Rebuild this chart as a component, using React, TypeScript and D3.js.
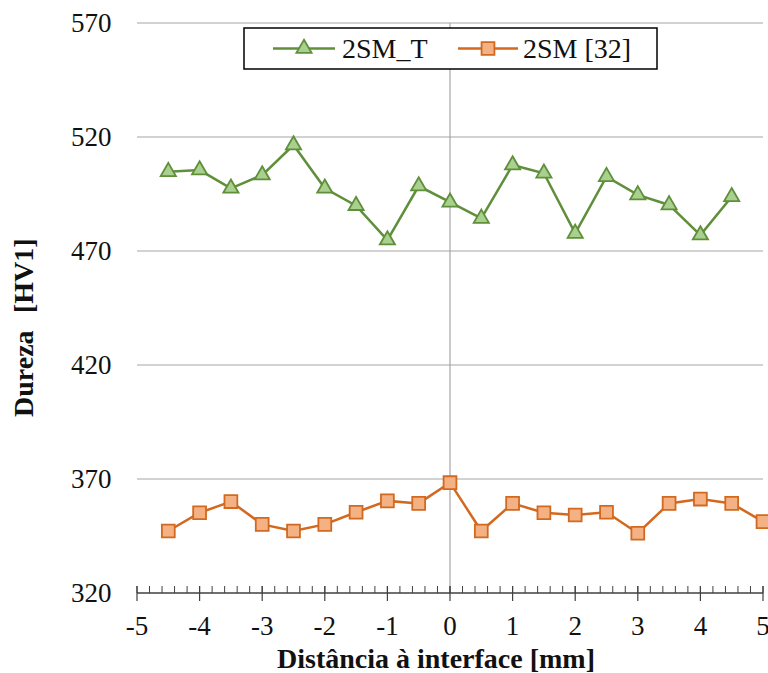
import React from "react";
import * as d3 from "d3";

const xPos = [-4.5, -4, -3.5, -3, -2.5, -2, -1.5, -1, -0.5, 0, 0.5, 1, 1.5, 2, 2.5, 3, 3.5, 4, 4.5];
const green = [504.8, 505.5, 497.5, 503.3, 516.5, 497.5, 489.9, 474.8, 498.5, 491.4, 484.3, 507.7, 504.1, 477.7, 502.6, 494.6, 490.2, 477.0, 493.8];
const xPosOrange = [-4.5, -4, -3.5, -3, -2.5, -2, -1.5, -1, -0.5, 0, 0.5, 1, 1.5, 2, 2.5, 3, 3.5, 4, 4.5, 5];
const orange = [347.2, 355.2, 360.1, 350.1, 347.2, 350.1, 355.4, 360.4, 359.3, 368.4, 347.2, 359.3, 355.2, 354.2, 355.4, 346.2, 359.3, 361.2, 359.3, 351.3];
const yTicks = [320, 370, 420, 470, 520, 570];
const xTicks = [-5, -4, -3, -2, -1, 0, 1, 2, 3, 4, 5];
const seriesNames = ["2SM_T", "2SM [32]"];

const W = 768, H = 673;
const L = 137, R = 763, T = 23, B = 593;
const FONT = "Liberation Serif";
const GREEN_LINE = "#5F8F3A";
const GREEN_FILL = "#A9D08E";
const ORANGE_LINE = "#D2691F";
const ORANGE_FILL = "#F4B183";

export default function App() {
  const x = d3.scaleLinear().domain([-5, 5]).range([L, R]);
  const y = d3.scaleLinear().domain([320, 570]).range([B, T]);
  const gPts: [number, number][] = xPos.map((v, i) => [v, green[i]]);
  const oPts: [number, number][] = xPosOrange.map((v, i) => [v, orange[i]]);
  const line = d3.line<[number, number]>().x(d => x(d[0])).y(d => y(d[1]));
  const minor = d3.range(-50, 51, 2).map(v => v / 10);
  const tri = d3.symbol().type(d3.symbolTriangle).size(100)();
  const sq = d3.symbol().type(d3.symbolSquare).size(165)();
  const ts = { fontFamily: FONT };

  return (
    <svg width={W} height={H} style={{ position: "absolute", left: 0, top: 0, background: "#fff" }}>
      {yTicks.filter(t => t !== 320).map(t => (
        <line key={t} x1={L} x2={R} y1={y(t)} y2={y(t)} stroke="#A6A6A6" strokeWidth={1.2} />
      ))}
      <line x1={x(0)} x2={x(0)} y1={T} y2={B} stroke="#A6A6A6" strokeWidth={1.2} />
      <line x1={L} x2={R} y1={B} y2={B} stroke="#404040" strokeWidth={1.3} />
      {minor.map(v => (
        <line key={v} x1={x(v)} x2={x(v)} y1={B - 7} y2={B} stroke="#404040" strokeWidth={1} />
      ))}
      {xTicks.map(t => (
        <line key={t} x1={x(t)} x2={x(t)} y1={B - 7} y2={B + 8} stroke="#404040" strokeWidth={1.2} />
      ))}
      {yTicks.map(t => (
        <text key={t} x={111.5} y={y(t)} dy="0.35em" textAnchor="end" style={ts} fontSize={27} fill="#111">{t}</text>
      ))}
      {xTicks.map(t => (
        <text key={t} x={x(t)} y={635} textAnchor="middle" style={ts} fontSize={27} fill="#111">{t}</text>
      ))}
      <text x={436} y={668} textAnchor="middle" style={ts} fontSize={28} fontWeight="bold" fill="#111">Distância à interface [mm]</text>
      <text transform="translate(33,417) rotate(-90)" textAnchor="start" style={ts} fontSize={28} fontWeight="bold" fill="#111">Dureza</text>
      <text transform="translate(33,313) rotate(-90)" textAnchor="start" style={ts} fontSize={28} fontWeight="bold" fill="#111">[HV1]</text>

      <path d={line(gPts) || ""} fill="none" stroke={GREEN_LINE} strokeWidth={2.5} />
      {gPts.map((p, i) => (
        <path key={i} d={tri || ""} transform={`translate(${x(p[0])},${y(p[1])})`} fill={GREEN_FILL} stroke={GREEN_LINE} strokeWidth={1.8} />
      ))}
      <path d={line(oPts) || ""} fill="none" stroke={ORANGE_LINE} strokeWidth={2.5} />
      {oPts.map((p, i) => (
        <path key={i} d={sq || ""} transform={`translate(${x(p[0])},${y(p[1])})`} fill={ORANGE_FILL} stroke={ORANGE_LINE} strokeWidth={1.8} />
      ))}

      <rect x={244} y={28} width={413} height={41} fill="#fff" stroke="#000" strokeWidth={1.5} />
      <line x1={273} x2={335} y1={48.5} y2={48.5} stroke={GREEN_LINE} strokeWidth={2.5} />
      <path d={tri || ""} transform="translate(304,48.5)" fill={GREEN_FILL} stroke={GREEN_LINE} strokeWidth={1.8} />
      <text x={342} y={58} style={ts} fontSize={28} fill="#111">{seriesNames[0]}</text>
      <line x1={458} x2={518} y1={48.5} y2={48.5} stroke={ORANGE_LINE} strokeWidth={2.5} />
      <path d={sq || ""} transform="translate(488,48.5)" fill={ORANGE_FILL} stroke={ORANGE_LINE} strokeWidth={1.8} />
      <text x={523} y={58} style={ts} fontSize={28} fill="#111">{seriesNames[1]}</text>
    </svg>
  );
}
